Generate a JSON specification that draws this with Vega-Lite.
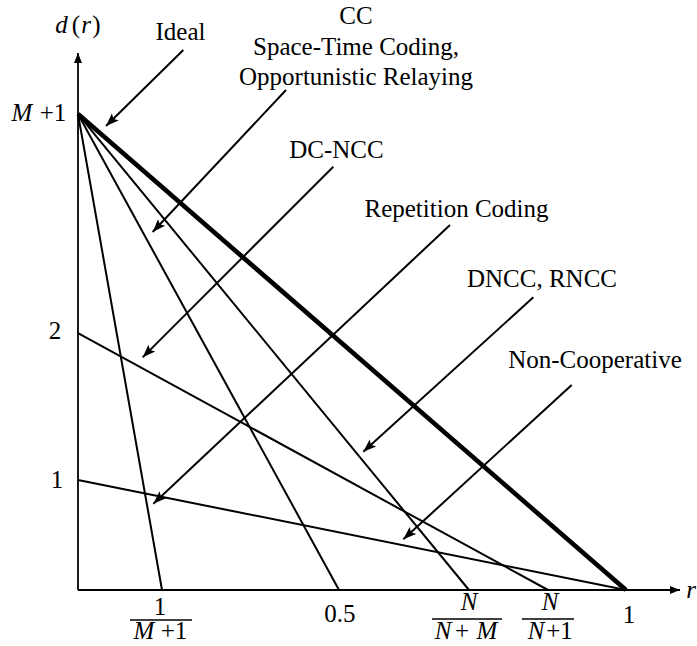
{
  "$schema": "https://vega.github.io/schema/vega-lite/v6.json",
  "width": 697,
  "height": 646,
  "autosize": "none",
  "padding": 0,
  "background": "white",
  "config": {"view": {"stroke": null}},
  "datasets": {
    "tradeoffs": [
      {"x": 0, "y": 4.327, "x2": 0.1533, "y2": 0},
      {"x": 0, "y": 4.327, "x2": 0.4763, "y2": 0},
      {"x": 0, "y": 4.327, "x2": 0.7135, "y2": 0},
      {"x": 0, "y": 2.336, "x2": 0.8577, "y2": 0},
      {"x": 0, "y": 1, "x2": 1, "y2": 0}
    ],
    "ideal": [
      {"x": 0, "y": 4.327, "x2": 1, "y2": 0}
    ],
    "axes": [
      {"x": 0, "y": 0, "x2": 0, "y2": 4.882},
      {"x": 0, "y": 0, "x2": 1.0985, "y2": 0}
    ],
    "pointers": [
      {"name": "Ideal", "x": 0.1922, "y": 4.909, "x2": 0.0511, "y2": 4.218},
      {"name": "CC", "x": 0.3796, "y": 4.545, "x2": 0.1363, "y2": 3.255},
      {"name": "DC-NCC", "x": 0.4659, "y": 3.848, "x2": 0.118, "y2": 2.115},
      {"name": "Repetition Coding", "x": 0.6788, "y": 3.318, "x2": 0.1375, "y2": 0.785},
      {"name": "DNCC, RNCC", "x": 0.8309, "y": 2.661, "x2": 0.5206, "y2": 1.257},
      {"name": "Non-Cooperative", "x": 0.9009, "y": 1.864, "x2": 0.5937, "y2": 0.461}
    ],
    "roman": [
      {"t": "Ideal", "x": 0.187, "y": 5.0},
      {"t": "CC", "x": 0.5073, "y": 5.1455},
      {"t": "Space-Time Coding,", "x": 0.5073, "y": 4.8636},
      {"t": "Opportunistic Relaying", "x": 0.5073, "y": 4.5909},
      {"t": "DC-NCC", "x": 0.4717, "y": 3.9273},
      {"t": "Repetition Coding", "x": 0.6907, "y": 3.3909},
      {"t": "DNCC, RNCC", "x": 0.8467, "y": 2.7545},
      {"t": "Non-Cooperative", "x": 0.9434, "y": 2.0182},
      {"t": "2", "x": -0.042, "y": 2.2818},
      {"t": "1", "x": -0.0383, "y": 0.9273},
      {"t": "+1", "x": -0.0456, "y": 4.2636},
      {"t": "1", "x": 0.1496, "y": -0.2273},
      {"t": "+1", "x": 0.1752, "y": -0.4455},
      {"t": "0.5", "x": 0.4781, "y": -0.2909},
      {"t": "+", "x": 0.7007, "y": -0.4455},
      {"t": "+1", "x": 0.8786, "y": -0.4455},
      {"t": "1", "x": 1.0055, "y": -0.3},
      {"t": "(", "x": -0.0036, "y": 5.0636},
      {"t": ")", "x": 0.0338, "y": 5.0636}
    ],
    "italic": [
      {"t": "M", "x": -0.1022, "y": 4.2636},
      {"t": "M", "x": 0.1204, "y": -0.4455},
      {"t": "N", "x": 0.7135, "y": -0.1818},
      {"t": "N", "x": 0.6661, "y": -0.4455},
      {"t": "M", "x": 0.7464, "y": -0.4455},
      {"t": "N", "x": 0.8613, "y": -0.1818},
      {"t": "N", "x": 0.8358, "y": -0.4455},
      {"t": "r", "x": 1.1186, "y": -0.0727},
      {"t": "d", "x": -0.0301, "y": 5.0636},
      {"t": "r", "x": 0.0146, "y": 5.0636}
    ],
    "fractionBars": [
      {"x": 0.0949, "x2": 0.208, "y": -0.2727},
      {"x": 0.646, "x2": 0.7737, "y": -0.2636},
      {"x": 0.8102, "x2": 0.9051, "y": -0.2636}
    ]
  },
  "encoding": {
    "x": {"field": "x", "type": "quantitative", "axis": null,
          "scale": {"domain": [-0.142336, 1.129562], "nice": false, "zero": false}},
    "y": {"field": "y", "type": "quantitative", "axis": null,
          "scale": {"domain": [-0.509091, 5.363636], "nice": false, "zero": false}}
  },
  "layer": [
    {
      "data": {"name": "axes"},
      "mark": {"type": "rule", "color": "black", "strokeWidth": 1.8},
      "encoding": {"x2": {"field": "x2"}, "y2": {"field": "y2"}}
    },
    {
      "data": {"name": "axes"},
      "transform": [
        {"calculate": "atan2((datum.x2 - datum.x) * 548, (datum.y2 - datum.y) * 110) * 180 / PI", "as": "heading"}
      ],
      "mark": {"type": "point", "filled": true, "color": "black", "opacity": 1, "strokeWidth": 0,
               "shape": "M0,0L0.8,2L-0.8,2Z", "size": 100},
      "encoding": {
        "x": {"field": "x2", "type": "quantitative"},
        "y": {"field": "y2", "type": "quantitative"},
        "angle": {"field": "heading", "type": "quantitative", "scale": null}
      }
    },
    {
      "data": {"name": "tradeoffs"},
      "mark": {"type": "rule", "color": "black", "strokeWidth": 2},
      "encoding": {"x2": {"field": "x2"}, "y2": {"field": "y2"}}
    },
    {
      "data": {"name": "ideal"},
      "mark": {"type": "rule", "color": "black", "strokeWidth": 4.6},
      "encoding": {"x2": {"field": "x2"}, "y2": {"field": "y2"}}
    },
    {
      "data": {"name": "pointers"},
      "mark": {"type": "rule", "color": "black", "strokeWidth": 2},
      "encoding": {"x2": {"field": "x2"}, "y2": {"field": "y2"}}
    },
    {
      "data": {"name": "pointers"},
      "transform": [
        {"calculate": "atan2((datum.x2 - datum.x) * 548, (datum.y2 - datum.y) * 110) * 180 / PI", "as": "heading"}
      ],
      "mark": {"type": "point", "filled": true, "color": "black", "opacity": 1, "strokeWidth": 0,
               "shape": "M0,0L0.75,2L0,1.6L-0.75,2Z", "size": 169},
      "encoding": {
        "x": {"field": "x2", "type": "quantitative"},
        "y": {"field": "y2", "type": "quantitative"},
        "angle": {"field": "heading", "type": "quantitative", "scale": null}
      }
    },
    {
      "data": {"name": "fractionBars"},
      "mark": {"type": "rule", "color": "black", "strokeWidth": 1.5},
      "encoding": {"x2": {"field": "x2"}}
    },
    {
      "data": {"name": "roman"},
      "mark": {"type": "text", "font": "Liberation Serif", "fontSize": 25, "color": "black",
               "align": "center", "baseline": "alphabetic"},
      "encoding": {"text": {"field": "t"}}
    },
    {
      "data": {"name": "italic"},
      "mark": {"type": "text", "font": "Liberation Serif", "fontSize": 25, "fontStyle": "italic",
               "color": "black", "align": "center", "baseline": "alphabetic"},
      "encoding": {"text": {"field": "t"}}
    }
  ]
}
